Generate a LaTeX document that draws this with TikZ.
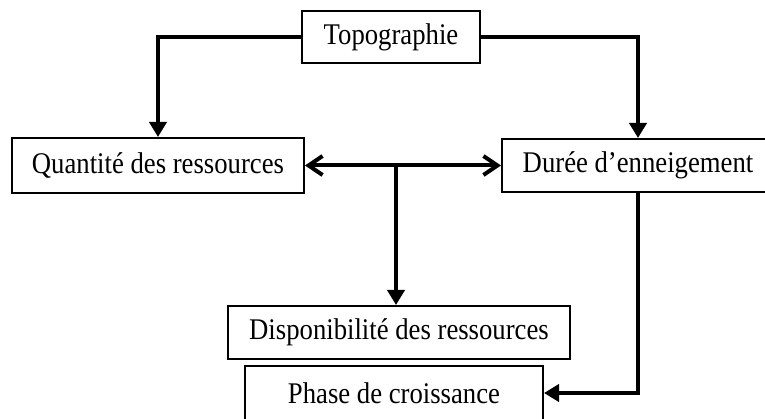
\documentclass[tikz,border=0pt]{standalone}
\usepackage{fontspec}
\setmainfont[FakeStretch=0.89]{Liberation Serif}
\usetikzlibrary{arrows.meta}
\usetikzlibrary{positioning}

\begin{document}
\begin{tikzpicture} [x=1pt,y=-1pt,
		box/.style={rectangle,draw=black,fill=white,line width=2pt,inner sep=0pt,
			font=\fontsize{30}{34}\selectfont},
		link/.style={line width=4pt,-{Triangle[length=15pt,width=17pt]}},
		both/.style={line width=4pt,{Straight Barb[length=14pt,width=19pt]}-{Straight Barb[length=14pt,width=19pt]}}]
		
		% frame of the picture
		\clip (0,0) rectangle (765,419);
		
		% Boxes
		\node[box,minimum width=178pt,minimum height=52pt] (topo) at (391,37) {Topographie};
		\node[box,minimum width=292pt,minimum height=55pt] (quant) at (158,165.5) {Quantité des ressources};
		\node[box,minimum width=272pt,minimum height=53pt] (duree) at (638,165.5) {Durée d’enneigement};
		\node[box,minimum width=342pt,minimum height=53pt] (dispo) at (399,332.5) {Disponibilité des ressources};
		\node[box,minimum width=298pt,minimum height=54pt] (phase) at (394,393) {Phase de croissance};
		
		% junction on the double arrow
		\coordinate (junc) at (396,165.5);
		
		% Arrows
		\draw[link] (topo.west) -| (quant.north); % to quantite
		\draw[link] (topo.east) -| (duree.north); % to duree
		\draw[both] (quant.east) -- (duree.west); % between
		\draw[link] (junc) -- (junc |- dispo.north); % to dispo
		\draw[link] (duree.south) |- (phase.east); % to phase
		\end{tikzpicture}
\end{document}
